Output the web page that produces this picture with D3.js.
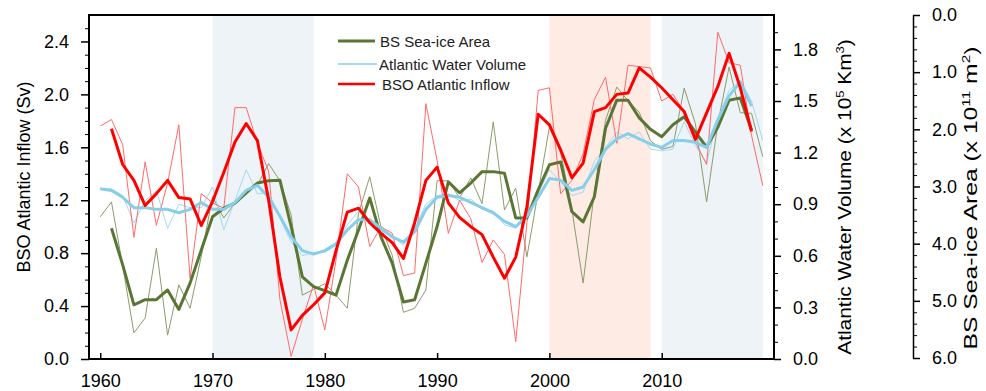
<!DOCTYPE html>
<html>
<head>
<meta charset="utf-8">
<script src="https://cdn.jsdelivr.net/npm/d3@7"></script>
<style>
  html, body { margin: 0; padding: 0; background: #fff; }
  svg { display: block; font-family: "Liberation Sans", Arial, Helvetica, sans-serif; }
</style>
</head>
<body>
<svg id="chart" width="986" height="391"></svg>
<script>
// Annual values 1960-2019 and their running means
const years = d3.range(1960, 2020);
const smoothYears = d3.range(1961, 2019);
const volSmoothYears = d3.range(1960, 2019);

// BSO Atlantic inflow (Sv)
const inflowAnnual = [1.76, 1.81, 1.62, 0.92, 1.49, 1.01, 1.33, 1.77, 0.61, 1.25,
  1.18, 1.14, 1.90, 1.90, 1.63, 1.42, 0.45, 0.02, 0.30, 0.56,
  0.22, 0.75, 1.40, 1.30, 0.85, 1.00, 0.95, 0.63, 0.65, 1.93,
  1.50, 0.95, 1.20, 1.06, 0.73, 0.90, 0.79, 0.13, 1.03, 2.03,
  2.05, 1.25, 1.35, 1.55, 1.96, 2.13, 1.63, 2.22, 2.21, 2.20,
  1.95, 2.00, 1.87, 1.64, 1.47, 2.47, 2.24, 2.22, 1.69, 1.31];
const inflowSmooth = [1.74, 1.47, 1.35, 1.16, 1.25, 1.35, 1.22, 1.21, 1.01,
  1.19, 1.41, 1.64, 1.78, 1.65, 1.20, 0.62, 0.22, 0.33, 0.41,
  0.50, 0.82, 1.11, 1.14, 1.03, 0.95, 0.88, 0.76, 1.03, 1.35,
  1.45, 1.18, 1.07, 1.00, 0.94, 0.77, 0.61, 0.77, 1.15, 1.85,
  1.77, 1.58, 1.37, 1.48, 1.87, 1.90, 2.00, 2.01, 2.20, 2.13,
  2.05, 1.96, 1.87, 1.66, 1.86, 2.06, 2.31, 2.05, 1.72];

// Atlantic water volume (x 10^5 km^3)
const volumeAnnual = [0.99, 0.99, 0.95, 0.79, 0.92, 0.98, 0.76, 0.90, 0.88, 0.88,
  1.00, 0.75, 0.92, 1.10, 0.96, 0.97, 0.82, 0.68, 0.60, 0.62,
  0.62, 0.66, 0.78, 0.86, 0.80, 0.74, 0.72, 0.66, 0.76, 0.90,
  0.95, 0.96, 0.92, 0.93, 0.87, 0.86, 0.78, 0.76, 0.84, 0.96,
  1.10, 1.03, 0.95, 0.97, 1.15, 1.23, 1.32, 1.28, 1.32, 1.22,
  1.21, 1.22, 1.38, 1.24, 1.14, 1.40, 1.56, 1.62, 1.50, 1.27];
const volumeSmooth = [0.99, 0.98, 0.94, 0.88, 0.88, 0.87, 0.87, 0.85, 0.87, 0.91,
  0.87, 0.87, 0.91, 0.98, 1.01, 0.94, 0.83, 0.71, 0.63, 0.61,
  0.63, 0.67, 0.75, 0.81, 0.81, 0.76, 0.71, 0.68, 0.74, 0.87,
  0.94, 0.95, 0.94, 0.91, 0.88, 0.85, 0.80, 0.77, 0.83, 0.94,
  1.05, 1.04, 0.98, 1.00, 1.10, 1.22, 1.28, 1.31, 1.28, 1.25,
  1.23, 1.27, 1.27, 1.26, 1.23, 1.39, 1.53, 1.61, 1.47];

// BS sea-ice area (x 10^11 m^2), plotted on a reversed axis
const iceAnnual = [3.53, 3.27, 4.39, 5.56, 5.30, 4.08, 5.60, 4.72, 5.13, 4.22,
  3.18, 3.55, 3.29, 3.11, 2.97, 2.60, 2.90, 3.50, 4.90, 4.80,
  4.70, 4.90, 5.13, 3.47, 2.83, 3.71, 4.20, 5.20, 5.13, 4.81,
  2.90, 2.90, 3.20, 2.85, 3.30, 1.87, 3.41, 3.03, 4.23, 3.10,
  1.96, 2.40, 3.40, 4.69, 3.10, 1.84, 1.26, 1.50, 1.70, 2.20,
  2.35, 2.30, 1.28, 1.90, 3.27, 1.90, 0.91, 1.71, 1.72, 2.48];
const iceSmooth = [3.73, 4.37, 5.07, 4.98, 4.98, 4.81, 5.15, 4.69, 4.11,
  3.53, 3.38, 3.29, 3.11, 2.94, 2.90, 2.89, 3.70, 4.58, 4.75,
  4.82, 4.90, 4.29, 3.76, 3.20, 3.88, 4.34, 5.02, 4.98, 4.34,
  3.70, 2.92, 3.11, 2.94, 2.74, 2.74, 2.77, 3.55, 3.55, 3.06,
  2.62, 2.57, 3.44, 3.62, 3.18, 1.98, 1.49, 1.49, 1.80, 2.00,
  2.13, 1.92, 1.78, 2.05, 2.31, 1.96, 1.49, 1.45, 2.01];

// Highlighted periods [start, end]
const coolPeriods = [[1970, 1979], [2010, 2019]];
const warmPeriods = [[2000, 2009]];

// Tick values
const xTicks = [1960, 1970, 1980, 1990, 2000, 2010];
const inflowTicks = [0, 0.4, 0.8, 1.2, 1.6, 2.0, 2.4];
const volumeTicks = [0, 0.3, 0.6, 0.9, 1.2, 1.5, 1.8];
const iceTicks = [0, 1, 2, 3, 4, 5, 6];

const legendLabels = ["BS Sea-ice Area", "Atlantic Water Volume", "BSO Atlantic Inflow"];

const svg = d3.select("#chart");
const plotLeft = 89, plotRight = 774, plotTop = 15, plotBottom = 359;

const x = d3.scaleLinear().domain([1959, 2020]).range([plotLeft, plotRight]);
const yInflow = d3.scaleLinear().domain([0, 2.6]).range([plotBottom, plotTop]);
const yVolume = d3.scaleLinear().domain([0, 2.0]).range([plotBottom, plotTop]);
const yIce = d3.scaleLinear().domain([0, 6]).range([plotTop, 358]);

const colors = {
  ice: "#5b7634", iceThin: "#8c9c6c",
  vol: "#87ceeb", volThin: "#a6d9ef",
  inflow: "#ff0000", inflowThin: "#ff6a6a"
};

// shaded periods
const shade = svg.append("g");
shade.selectAll("rect.cool").data(coolPeriods).join("rect")
  .attr("x", d => x(d[0])).attr("width", d => x(d[1]) - x(d[0]))
  .attr("y", plotTop).attr("height", plotBottom - plotTop).attr("fill", "#edf3f6");
shade.selectAll("rect.warm").data(warmPeriods).join("rect")
  .attr("x", d => x(d[0])).attr("width", d => x(d[1]) - x(d[0]))
  .attr("y", plotTop).attr("height", plotBottom - plotTop).attr("fill", "#fdebe4");

function drawLine(xs, vals, yScale, color, width) {
  const pts = xs.map((yr, i) => [yr, vals[i]]);
  svg.append("path")
    .datum(pts)
    .attr("fill", "none")
    .attr("stroke", color)
    .attr("stroke-width", width)
    .attr("stroke-linejoin", "round")
    .attr("d", d3.line().x(d => x(d[0])).y(d => yScale(d[1])));
}

drawLine(years, iceAnnual, yIce, colors.iceThin, 1);
drawLine(years, volumeAnnual, yVolume, colors.volThin, 1);
drawLine(years, inflowAnnual, yInflow, colors.inflowThin, 1);
drawLine(smoothYears, iceSmooth, yIce, colors.ice, 3);
drawLine(volSmoothYears, volumeSmooth, yVolume, colors.vol, 3);
drawLine(smoothYears, inflowSmooth, yInflow, colors.inflow, 3);

// frame
svg.append("rect").attr("x", plotLeft).attr("y", plotTop)
  .attr("width", plotRight - plotLeft).attr("height", plotBottom - plotTop)
  .attr("fill", "none").attr("stroke", "#000").attr("stroke-width", 2);

const fmt = d3.format(".1f");
const tickFont = 18;

function styleAxis(g) {
  g.select(".domain").remove();
  g.selectAll("line").attr("stroke", "#000").attr("stroke-width", 1.5);
  g.selectAll("text").attr("font-size", tickFont).attr("fill", "#000");
}

// left axis
const gL = svg.append("g").attr("transform", `translate(${plotLeft},0)`);
gL.call(d3.axisLeft(yInflow).tickValues(inflowTicks).tickFormat(fmt).tickSize(8).tickPadding(12));
styleAxis(gL);
const gLm = svg.append("g").attr("transform", `translate(${plotLeft},0)`);
gLm.call(d3.axisLeft(yInflow).tickValues(d3.range(1, 26).filter(d => d % 4 !== 0).map(d => d / 10)).tickFormat("").tickSize(4));
styleAxis(gLm);
gLm.selectAll("line").attr("stroke-width", 1);

// right axis (volume)
const gR = svg.append("g").attr("transform", `translate(${plotRight},0)`);
gR.call(d3.axisRight(yVolume).tickValues(volumeTicks).tickFormat(fmt).tickSize(7).tickPadding(12));
styleAxis(gR);
const gRm = svg.append("g").attr("transform", `translate(${plotRight},0)`);
gRm.call(d3.axisRight(yVolume).tickValues(d3.range(1, 20).filter(d => d % 3 !== 0).map(d => d / 10)).tickFormat("").tickSize(4));
styleAxis(gRm);
gRm.selectAll("line").attr("stroke-width", 1);

// bottom axis, ticks inside
const gB = svg.append("g").attr("transform", `translate(0,${plotBottom})`);
gB.call(d3.axisBottom(x).tickValues(xTicks).tickFormat(d3.format("d")).tickSize(-6).tickPadding(15));
styleAxis(gB);

// detached sea-ice axis
const iceX = 913;
const gI = svg.append("g").attr("transform", `translate(${iceX},0)`);
gI.call(d3.axisRight(yIce).tickValues(iceTicks).tickFormat(fmt).tickSize(7).tickPadding(12).tickSizeOuter(0));
gI.select(".domain").attr("stroke", "#000").attr("stroke-width", 1.5);
gI.selectAll("line").attr("stroke", "#000").attr("stroke-width", 1.5);
gI.selectAll("text").attr("font-size", tickFont).attr("fill", "#000");
const gIm = svg.append("g").attr("transform", `translate(${iceX},0)`);
gIm.call(d3.axisRight(yIce).tickValues(d3.range(1, 30).filter(d => d % 5 !== 0).map(d => d / 5)).tickFormat("").tickSize(4));
styleAxis(gIm);
gIm.selectAll("line").attr("stroke-width", 1);

// rotated axis titles; superscripts are raised tspans
function vTitle(xPos, yPos, size, stretch, parts) {
  const t = svg.append("text")
    .attr("transform", `translate(${xPos},${yPos}) rotate(-90) scale(${stretch},1)`)
    .attr("text-anchor", "middle").attr("font-size", size).attr("fill", "#000");
  let shift = 0;
  parts.forEach(p => {
    const sp = t.append("tspan").text(p.text);
    if (p.sup) {
      sp.attr("dy", -7 - shift).attr("font-size", size * 0.62);
      shift = -7;
    } else {
      if (shift !== 0) sp.attr("dy", -shift);
      shift = 0;
    }
  });
}
vTitle(30, 177, 18, 1, [{ text: "BSO  Atlantic Inflow (Sv)" }]);
vTitle(851, 197, 19, 1.1, [{ text: "Atlantic Water Volume (x 10" }, { text: "5", sup: true }, { text: " Km" }, { text: "3", sup: true }, { text: ")" }]);
vTitle(977, 198, 19, 1.3, [{ text: "BS Sea-ice Area (x 10" }, { text: "11", sup: true }, { text: " m" }, { text: "2", sup: true }, { text: ")" }]);

// legend
const legendItems = [
  { label: legendLabels[0], color: colors.ice, w: 3, y: 41, x1: 338, x2: 375, tx: 380 },
  { label: legendLabels[1], color: colors.vol, w: 1.5, y: 64, x1: 338, x2: 377, tx: 379 },
  { label: legendLabels[2], color: colors.inflow, w: 2.5, y: 84, x1: 338, x2: 375, tx: 382 }
];
const lg = svg.append("g");
legendItems.forEach(d => {
  lg.append("line").attr("x1", d.x1).attr("x2", d.x2).attr("y1", d.y).attr("y2", d.y)
    .attr("stroke", d.color).attr("stroke-width", d.w);
  lg.append("text").attr("x", d.tx).attr("y", d.y + 5.5)
    .attr("font-size", 15).attr("fill", "#222").text(d.label);
});
</script>
</body>
</html>
